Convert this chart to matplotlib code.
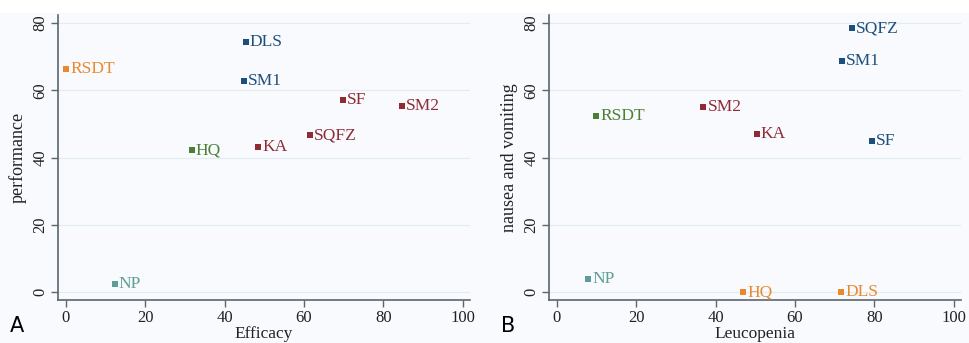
import matplotlib
matplotlib.use('Agg')
from matplotlib import pyplot as plt

# panel A: efficacy vs performance
names_a = ['RSDT', 'DLS', 'SM1', 'SF', 'SM2', 'SQFZ', 'KA', 'HQ', 'NP']
efficacy = [0, 45.3, 44.8, 69.8, 84.6, 61.5, 48.4, 31.7, 12.3]
performance = [66.3, 74.3, 62.7, 57.1, 55.3, 46.7, 43.1, 42.2, 2.4]
groups_a = ['orange', 'blue', 'blue', 'red', 'red', 'red', 'red', 'green', 'teal']

# panel B: leucopenia vs nausea and vomiting
names_b = ['SQFZ', 'SM1', 'SF', 'SM2', 'KA', 'RSDT', 'NP', 'HQ', 'DLS']
leucopenia = [74.4, 71.8, 79.4, 36.9, 50.3, 9.8, 7.9, 47.0, 71.6]
nausea = [78.5, 68.7, 45.0, 55.2, 47.0, 52.5, 4.0, 0, 0]
groups_b = ['blue', 'blue', 'blue', 'red', 'red', 'green', 'teal', 'orange', 'orange']

colors = {'orange': '#e8892e', 'blue': '#1d4f7c', 'red': '#8e2b33',
          'green': '#4b7f34', 'teal': '#5f9e98'}

bg = '#f8fafd'
fig = plt.figure(figsize=(9.69, 3.43), dpi=100, facecolor='white')
fig.patches.append(plt.Rectangle((0, 0), 1, 0.962, transform=fig.transFigure,
                                 color=bg, zorder=-10))

serif = ['Liberation Serif', 'DejaVu Serif']


def panel(rect, xs, ys, names, groups, xlabel, ylabel, letter):
    ax = fig.add_axes(rect)
    ax.set_facecolor(bg)
    for x, y, n, g in zip(xs, ys, names, groups):
        ax.scatter(x, y, marker='s', s=22, color=colors[g], zorder=3, linewidths=0)
        ax.annotate(n, (x, y), xytext=(3, 0), textcoords='offset points',
                    va='center', ha='left', fontsize=12.5, color=colors[g],
                    family=serif)
    ax.set_xlim(-2, 101.8)
    ax.set_ylim(-2.4, 82.4)
    ax.set_xticks([0, 20, 40, 60, 80, 100])
    ax.set_yticks([0, 20, 40, 60, 80])
    ax.grid(axis='y', color='#e2ecf2', linewidth=0.8)
    ax.set_axisbelow(True)
    for s in ['top', 'right']:
        ax.spines[s].set_visible(False)
    for s in ['left', 'bottom']:
        ax.spines[s].set_color('#5a6670')
        ax.spines[s].set_linewidth(1.2)
    ax.tick_params(colors='#5a6670', labelcolor='#222222', length=5, width=1,
                   pad=2)
    for lab in ax.get_xticklabels() + ax.get_yticklabels():
        lab.set_family(serif)
        lab.set_fontsize(12)
    for lab in ax.get_yticklabels():
        lab.set_rotation(90)
        lab.set_va('center')
    ax.set_xlabel(xlabel, family=serif, fontsize=12.5, color='#222222', labelpad=0)
    ax.set_ylabel(ylabel, family=serif, fontsize=13, color='#222222', labelpad=4)
    fig.text(rect[0] - 0.05, 0.02, letter, fontsize=15, ha='left', va='bottom',
             family='DejaVu Sans')
    return ax


panel([0.0599, 0.125, 0.425, 0.831], efficacy, performance, names_a, groups_a,
      'Efficacy', 'performance', 'A')
panel([0.5666, 0.125, 0.425, 0.831], leucopenia, nausea, names_b, groups_b,
      'Leucopenia', 'nausea and vomiting', 'B')

fig.savefig('out.png', dpi=100, facecolor=fig.get_facecolor())
